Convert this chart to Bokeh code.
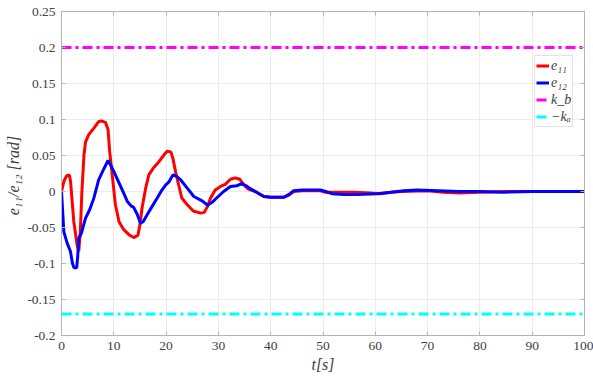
from bokeh.plotting import figure
from bokeh.models import Legend, LegendItem, FixedTicker, LinearAxis, Range1d
from bokeh.embed import file_html
from bokeh.resources import INLINE

# ---- data ----
t_e11 = [0, 0.5, 1.0, 1.5, 1.72, 2.0, 2.35, 2.98, 3.3, 3.6, 3.9, 4.3, 4.6, 5.2, 6.2, 7.1, 7.6,
         8.4, 8.9, 9.2, 9.7, 10.3, 11.0, 11.9, 12.9, 13.8, 14.6, 15.0, 15.4, 16.1, 16.7, 17.6,
         18.6, 19.6, 20.2, 20.9, 21.3, 21.8, 22.4, 23.0, 24.0, 25.2, 26.6, 27.3, 27.9, 28.5,
         29.4, 30.4, 31.3, 32.3, 33.2, 34.1, 34.9, 35.8, 37.1, 38.7, 40.0, 42.5, 43.5, 44.4,
         46, 49.5, 50.5, 52, 56, 59, 61, 63, 65, 70, 73, 76, 80, 85, 90, 95, 100]
e11 = [0, 0.015, 0.022, 0.023, 0.015, -0.010, -0.042, -0.074, -0.083, -0.056, 0.0, 0.051, 0.069,
       0.079, 0.088, 0.097, 0.098, 0.096, 0.086, 0.056, 0.023, -0.018, -0.042, -0.053, -0.060,
       -0.064, -0.061, -0.046, -0.023, 0.005, 0.023, 0.033, 0.041, 0.051, 0.056, 0.055, 0.046,
       0.028, 0.009, -0.009, -0.018, -0.027, -0.030, -0.029, -0.021, -0.009, 0.002, 0.007,
       0.010, 0.017, 0.019, 0.017, 0.009, 0.003, 0.0, -0.007, -0.008, -0.008, -0.005, 0.0,
       0.001, 0.001, -0.001, -0.001, -0.001, -0.002, -0.003, -0.001, 0.0, 0.001, -0.001,
       -0.002, -0.001, 0.0, 0.0, 0.0, 0.0]

t_e12 = [0, 0.45, 1.1, 1.7, 2.1, 2.4, 2.9, 3.1, 3.3, 3.8, 4.6, 5.4, 6.2, 6.7, 7.1, 8.0, 8.9, 9.3,
         10.0, 11.0, 12.0, 12.6, 13.3, 13.8, 14.5, 15.1, 15.6, 16.4, 17.3, 18.3, 19.2, 19.9,
         20.5, 21.3, 22.0, 22.8, 24.0, 25.3, 26.9, 27.9, 28.8, 29.8, 31.0, 32.3, 33.5, 34.5,
         35.3, 36.1, 37.5, 38.7, 40.0, 42.5, 43.5, 44.4, 46, 49.5, 50.5, 51.7, 54, 56.5, 60.4,
         63, 65.5, 68, 72, 76, 80, 84.5, 90, 100]
e12 = [0, -0.056, -0.072, -0.083, -0.100, -0.106, -0.106, -0.090, -0.065, -0.058, -0.037, -0.025,
       -0.009, 0.005, 0.016, 0.030, 0.043, 0.038, 0.028, 0.012, -0.004, -0.014, -0.020, -0.022,
       -0.032, -0.044, -0.042, -0.032, -0.021, -0.009, 0.002, 0.009, 0.013, 0.023, 0.021, 0.016,
       0.005, -0.007, -0.013, -0.019, -0.015, -0.008, 0.0, 0.007, 0.008, 0.011, 0.008, 0.004,
       -0.002, -0.007, -0.008, -0.008, -0.004, 0.001, 0.002, 0.002, 0.0, -0.003, -0.004, -0.004,
       -0.003, -0.001, 0.001, 0.002, 0.001, 0.0, 0.0, -0.001, 0.0, 0.0]

k_b = 0.2
minus_k_a = -0.17
t_span = [0, 100]

x_ticks = [0, 10, 20, 30, 40, 50, 60, 70, 80, 90, 100]
y_ticks = [-0.2, -0.15, -0.1, -0.05, 0, 0.05, 0.1, 0.15, 0.2, 0.25]
y_tick_labels = ["-0.2", "-0.15", "-0.1", "-0.05", "0", "0.05", "0.1", "0.15", "0.2", "0.25"]

labels = ["e\u2081\u2081", "e\u2081\u2082", "k_b", "\u2212k\u2090"]

FONT = "Liberation Serif"
TXT = "#404040"
AX = "#b4b4b4"
DASH = "10 4 3 4"

p = figure(width=593, height=380, output_backend="svg", toolbar_location=None,
           x_range=Range1d(0, 100), y_range=Range1d(-0.2, 0.25),
           min_border_left=61, min_border_right=9, min_border_top=11, min_border_bottom=45)
p.background_fill_color = "white"
p.outline_line_color = AX

r_kb = p.line([t_span[0], t_span[1]], [k_b, k_b], line_color="#ff00ff", line_width=3, line_dash=DASH)
r_ka = p.line([t_span[0], t_span[1]], [minus_k_a, minus_k_a], line_color="#00ffff", line_width=3, line_dash=DASH)
r1 = p.line(t_e11, e11, line_color="#ff0000", line_width=3)
r2 = p.line(t_e12, e12, line_color="#0000ff", line_width=3)

xa = p.below[0]
ya = p.left[0]
for ax in (xa, ya):
    ax.major_label_text_font = FONT
    ax.major_label_text_font_size = "13.5px"
    ax.major_label_text_color = TXT
    ax.axis_label_text_font = FONT
    ax.axis_label_text_font_size = "16px"
    ax.axis_label_text_color = TXT
    ax.axis_label_text_font_style = "italic"
    ax.axis_line_color = AX
    ax.major_tick_line_color = AX
    ax.major_tick_in = 4
    ax.major_tick_out = 0
    ax.minor_tick_line_color = None
    ax.major_label_standoff = 6

xa.ticker = FixedTicker(ticks=x_ticks)
ya.ticker = FixedTicker(ticks=y_ticks)
ya.major_label_overrides = {v: s for v, s in zip(y_ticks, y_tick_labels)}
xa.axis_label = "t[s]"
ya.axis_label = "e\u2081\u2081/e\u2081\u2082  [rad]"
xa.axis_label_standoff = 3
ya.axis_label_standoff = 2

for side, tk in (("right", y_ticks), ("above", x_ticks)):
    a = LinearAxis(ticker=FixedTicker(ticks=tk))
    a.major_label_overrides = {v: "" for v in tk}
    a.major_label_standoff = 0
    a.axis_line_color = AX
    a.major_tick_line_color = AX
    a.major_tick_in = 4
    a.major_tick_out = 0
    a.minor_tick_line_color = None
    p.add_layout(a, side)

p.xgrid.grid_line_color = "#ececec"
p.ygrid.grid_line_color = "#ececec"
p.xgrid.ticker = FixedTicker(ticks=x_ticks)
p.ygrid.ticker = FixedTicker(ticks=y_ticks)

legend = Legend(items=[LegendItem(label=labels[0], renderers=[r1]),
                       LegendItem(label=labels[1], renderers=[r2]),
                       LegendItem(label=labels[2], renderers=[r_kb]),
                       LegendItem(label=labels[3], renderers=[r_ka])],
                location=(473, 208))
legend.label_text_font = FONT
legend.label_text_font_style = "italic"
legend.label_text_font_size = "14px"
legend.label_text_color = TXT
legend.glyph_width = 13
legend.glyph_height = 17
legend.label_height = 17
legend.label_standoff = 2
legend.spacing = 0
legend.padding = 1
legend.margin = 0
legend.border_line_color = "#c8c8c8"
legend.background_fill_alpha = 1
p.add_layout(legend, "center")

open("out.html", "w").write(file_html(p, INLINE))
